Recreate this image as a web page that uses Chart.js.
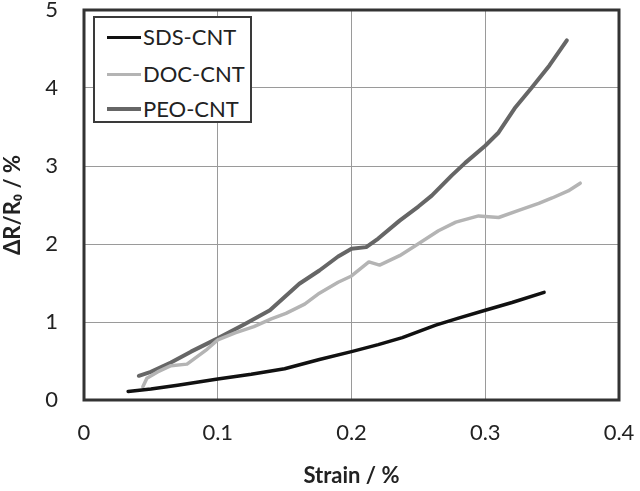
<!DOCTYPE html>
<html>
<head>
<meta charset="utf-8">
<script src="https://cdn.jsdelivr.net/npm/chart.js@4/dist/chart.umd.min.js"></script>
<style>
  html, body { margin: 0; padding: 0; background: #fff; }
  #wrap { position: relative; width: 640px; height: 491px; }
  #legend {
    position: absolute; left: 93px; top: 16px; width: 155px; height: 103px;
    border: 2px solid #3a3a3a; background: #fff; font-family: Lato, "Open Sans", sans-serif;
    font-size: 22px; color: #222; box-sizing: content-box;
  }
  .item { position: absolute; left: 12px; height: 24px; line-height: 24px; white-space: nowrap; }
  .item .sw { display: inline-block; width: 34px; vertical-align: middle; margin-right: 2px; }
  .item span.t { vertical-align: middle; }
</style>
</head>
<body>
<div id="wrap">
  <canvas id="c" width="640" height="491"></canvas>
  <div id="legend"></div>
</div>
<script>
// ---- data ----
const seriesNames = ["SDS-CNT", "DOC-CNT", "PEO-CNT"];

const sdsX = [0.033, 0.05, 0.07, 0.1, 0.125, 0.15, 0.176, 0.2, 0.22, 0.238, 0.263, 0.28, 0.3, 0.32, 0.344];
const sdsY = [0.11, 0.14, 0.19, 0.27, 0.33, 0.40, 0.52, 0.62, 0.71, 0.80, 0.96, 1.05, 1.15, 1.25, 1.38];

const docX = [0.044, 0.047, 0.055, 0.065, 0.077, 0.092, 0.1, 0.113, 0.127, 0.14, 0.151, 0.165, 0.176, 0.19, 0.2, 0.213, 0.221, 0.236, 0.248, 0.265, 0.278, 0.295, 0.31, 0.325, 0.34, 0.35, 0.362, 0.371];
const docY = [0.17, 0.28, 0.36, 0.44, 0.46, 0.65, 0.77, 0.86, 0.94, 1.04, 1.11, 1.23, 1.37, 1.51, 1.59, 1.77, 1.73, 1.85, 1.98, 2.17, 2.28, 2.36, 2.34, 2.43, 2.52, 2.59, 2.68, 2.78];

const peoX = [0.041, 0.05, 0.065, 0.08, 0.1, 0.12, 0.139, 0.161, 0.176, 0.19, 0.2, 0.211, 0.22, 0.236, 0.25, 0.26, 0.275, 0.285, 0.3, 0.31, 0.322, 0.335, 0.348, 0.361];
const peoY = [0.31, 0.36, 0.48, 0.62, 0.79, 0.97, 1.15, 1.49, 1.66, 1.84, 1.94, 1.96, 2.07, 2.30, 2.48, 2.62, 2.88, 3.04, 3.26, 3.43, 3.74, 4.01, 4.29, 4.61];

const xTicks = [0, 0.1, 0.2, 0.3, 0.4];
const yTicks = [0, 1, 2, 3, 4, 5];

const colors = ["#111111", "#b4b4b4", "#666666"];
const widths = [3.5, 3.5, 4];

function pts(xs, ys) { return xs.map((x, i) => ({ x: x, y: ys[i] })); }
const allData = [pts(sdsX, sdsY), pts(docX, docY), pts(peoX, peoY)];

const FONT = "Lato, 'Open Sans', sans-serif";

const borderPlugin = {
  id: 'plotBorder',
  afterDraw(chart) {
    const ctx = chart.ctx;
    const a = chart.chartArea;
    ctx.save();
    ctx.setLineDash([]);
    ctx.strokeStyle = '#333333';
    ctx.lineWidth = 3;
    ctx.strokeRect(a.left, a.top, a.right - a.left, a.bottom - a.top);
    ctx.restore();
  }
};

function zeroPad(s) { s.paddingTop = 0; s.paddingBottom = 0; s.paddingLeft = 0; s.paddingRight = 0; }

new Chart(document.getElementById('c'), {
  type: 'scatter',
  data: {
    datasets: seriesNames.map((n, i) => ({
      label: n,
      data: allData[i],
      showLine: true,
      borderColor: colors[i],
      backgroundColor: colors[i],
      borderWidth: widths[i],
      borderJoinStyle: 'round',
      borderCapStyle: 'round',
      pointRadius: 0,
      tension: 0
    }))
  },
  options: {
    responsive: false,
    animation: false,
    layout: { padding: { top: 10, right: 21, bottom: 0, left: 0 } },
    plugins: { legend: { display: false }, tooltip: { enabled: false } },
    scales: {
      x: {
        type: 'linear', min: 0, max: 0.4,
        afterBuildTicks(s) { s.ticks = xTicks.map(v => ({ value: v })); },
        afterFit(s) { s.height = 91; zeroPad(s); },
        grid: { color: '#9a9a9a', lineWidth: 1, borderDash: [3, 2], drawTicks: false },
        border: { display: false },
        ticks: { padding: 20, color: '#222', font: { family: FONT, size: 22 },
                 callback: v => String(v) },
        title: { display: true, text: 'Strain / %', color: '#222',
                 font: { family: FONT, size: 22, weight: 'bold' }, padding: { top: 0, bottom: 2 } }
      },
      y: {
        type: 'linear', min: 0, max: 5,
        afterBuildTicks(s) { s.ticks = yTicks.map(v => ({ value: v })); },
        afterFit(s) { s.width = 84; zeroPad(s); },
        grid: { color: '#9a9a9a', lineWidth: 1, borderDash: [3, 2], drawTicks: false },
        border: { display: false },
        ticks: { padding: 26, color: '#222', font: { family: FONT, size: 22 } },
        title: { display: true, text: 'ΔR/R₀ / %', color: '#222',
                 font: { family: FONT, size: 22, weight: 'bold' }, padding: { top: 0, bottom: 0 } }
      }
    }
  },
  plugins: [borderPlugin]
});

// HTML legend (boxed, inside the plot area)
const legend = document.getElementById('legend');
const tops = [5, 42, 77];
seriesNames.forEach((n, i) => {
  const d = document.createElement('div');
  d.className = 'item';
  d.style.top = tops[i] + 'px';
  const sw = document.createElement('span');
  sw.className = 'sw';
  sw.style.borderTop = widths[i] + 'px solid ' + colors[i];
  const t = document.createElement('span');
  t.className = 't';
  t.textContent = n;
  d.appendChild(sw); d.appendChild(t);
  legend.appendChild(d);
});
</script>
</body>
</html>
